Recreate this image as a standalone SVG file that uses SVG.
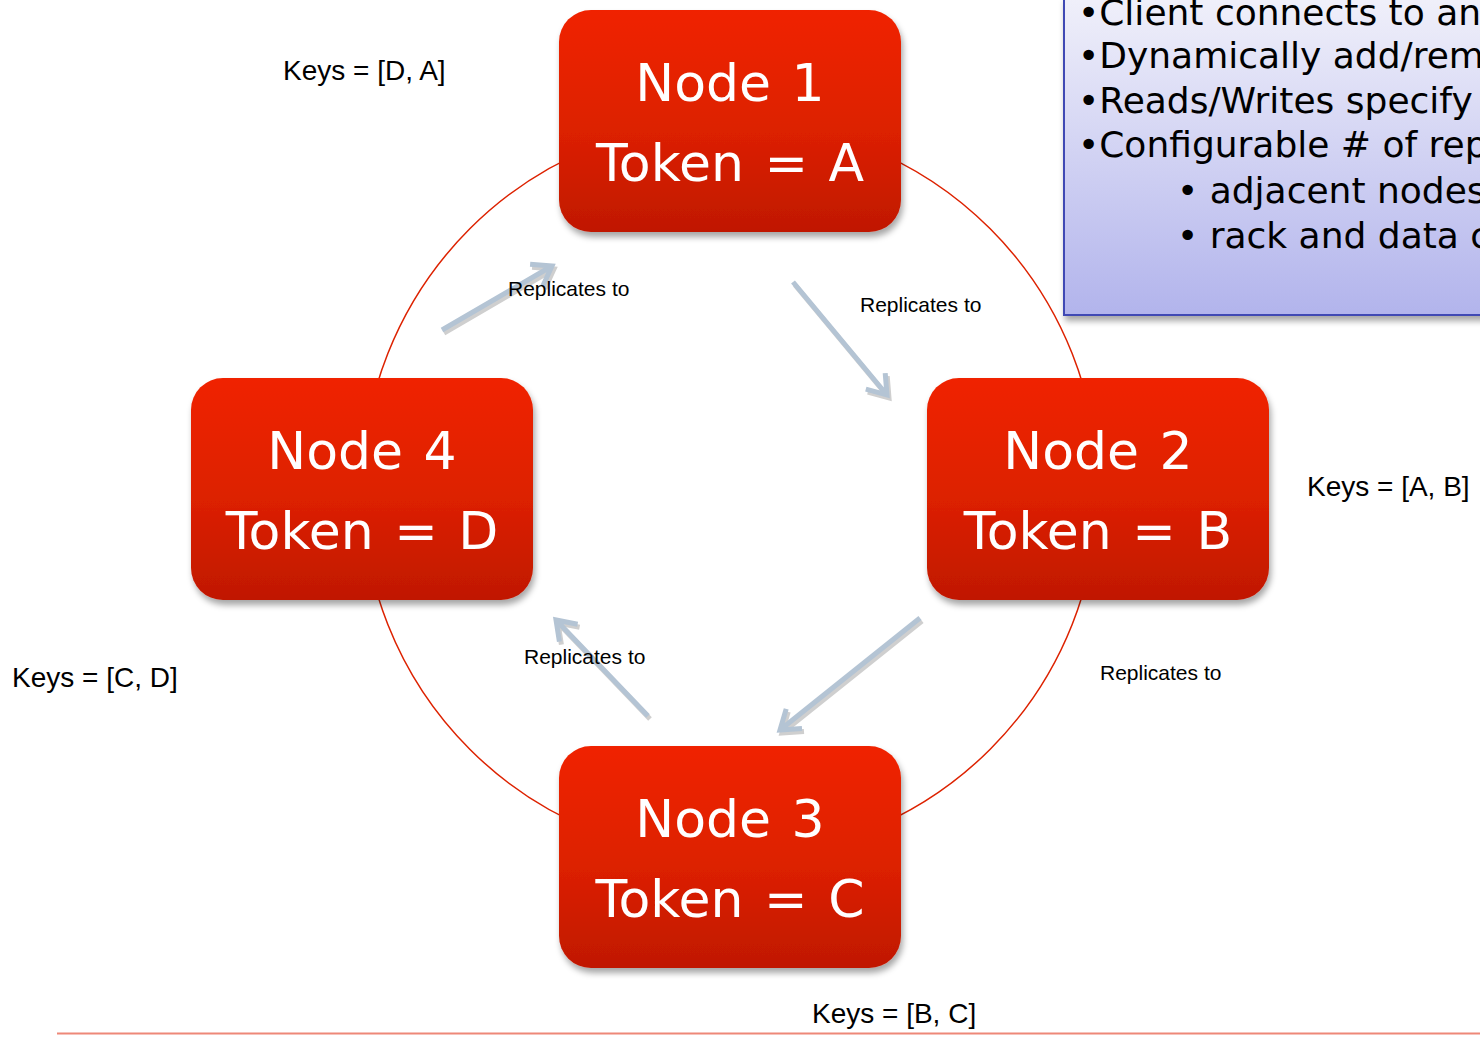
<svg xmlns="http://www.w3.org/2000/svg" width="1480" height="1039" viewBox="0 0 1480 1039">
  <defs>
    <linearGradient id="nodeFill" x1="0" y1="0" x2="0" y2="1">
      <stop offset="0" stop-color="#f02400"/>
      <stop offset="0.55" stop-color="#dc2000"/>
      <stop offset="1" stop-color="#c01800"/>
    </linearGradient>
    <linearGradient id="noteFill" x1="0" y1="0" x2="0" y2="1">
      <stop offset="0" stop-color="#f0f0fa"/>
      <stop offset="1" stop-color="#b2b4ec"/>
    </linearGradient>
    <filter id="shadow" x="-10%" y="-10%" width="125%" height="130%">
      <feDropShadow dx="2" dy="5" stdDeviation="3" flood-color="#000" flood-opacity="0.35"/>
    </filter>
    <clipPath id="noteClip">
      <rect x="1064" y="-2" width="430" height="317"/>
    </clipPath>
    <style>
      .node rect { fill: url(#nodeFill); filter: url(#shadow); }
      .node text { font-family: "DejaVu Sans", Verdana, sans-serif; font-size: 52px; fill: #ffffff; text-anchor: middle; word-spacing: 4px; }
      .keys { font-family: "Liberation Sans", Arial, sans-serif; font-size: 28px; fill: #000; }
      .rep { font-family: "Liberation Sans", Arial, sans-serif; font-size: 21px; fill: #000; }
      .arrow { fill: none; stroke: #b4c4d4; stroke-width: 5; stroke-linejoin: miter; }
      .arrow-shadow { fill: none; stroke: #cfcfcf; stroke-width: 5; stroke-linejoin: miter; }
      .note text { font-family: "DejaVu Sans", Verdana, sans-serif; font-size: 36px; fill: #000; }
    </style>
  </defs>

  <rect width="1480" height="1039" fill="#ffffff"/>

  <!-- token ring -->
  <circle id="ring" cx="730" cy="489" r="368" fill="none" stroke="#dd2200" stroke-width="1.5"/>

  <!-- feature notes -->
  <g id="notes" class="note">
    <rect x="1064" y="-2" width="430" height="317" fill="url(#noteFill)" stroke="#4048b4" stroke-width="2" filter="url(#shadow)"/>
    <g clip-path="url(#noteClip)">
      <text x="1078" y="25">•Client connects to any node</text>
      <text x="1078" y="68">•Dynamically add/remove nodes</text>
      <text x="1078" y="113">•Reads/Writes specify consistency</text>
      <text x="1078" y="157">•Configurable # of replicas</text>
      <text x="1177" y="203">• adjacent nodes</text>
      <text x="1177" y="248">• rack and data center aware</text>
    </g>
  </g>

  <!-- replication connectors -->
  <g id="connectors">
    <g transform="translate(2,3)">
      <path class="arrow-shadow" d="M442,330 L552,266 M530.1,264.2 L552,266 L542.8,286"/>
      <path class="arrow-shadow" d="M793,282 L887,395 M885.2,373.1 L887,395 L865.8,389.2"/>
      <path class="arrow-shadow" d="M920,618 L780,730 M802,728.6 L780,730 L786.2,708.9"/>
      <path class="arrow-shadow" d="M648,716 L556,620 M559.4,641.7 L556,620 L577.6,624.3"/>
    </g>
    <path class="arrow" d="M442,330 L552,266 M530.1,264.2 L552,266 L542.8,286"/>
    <path class="arrow" d="M793,282 L887,395 M885.2,373.1 L887,395 L865.8,389.2"/>
    <path class="arrow" d="M920,618 L780,730 M802,728.6 L780,730 L786.2,708.9"/>
    <path class="arrow" d="M648,716 L556,620 M559.4,641.7 L556,620 L577.6,624.3"/>
    <text class="rep" x="508" y="296">Replicates to</text>
    <text class="rep" x="860" y="312">Replicates to</text>
    <text class="rep" x="524" y="664">Replicates to</text>
    <text class="rep" x="1100" y="680">Replicates to</text>
  </g>

  <!-- ring nodes -->
  <g id="node1" class="node">
    <rect x="559" y="10" width="342" height="222" rx="32"/>
    <text x="730" y="101">Node 1</text>
    <text x="730" y="181">Token = A</text>
  </g>
  <g id="node2" class="node">
    <rect x="927" y="378" width="342" height="222" rx="32"/>
    <text x="1098" y="469">Node 2</text>
    <text x="1098" y="549">Token = B</text>
  </g>
  <g id="node3" class="node">
    <rect x="559" y="746" width="342" height="222" rx="32"/>
    <text x="730" y="837">Node 3</text>
    <text x="730" y="917">Token = C</text>
  </g>
  <g id="node4" class="node">
    <rect x="191" y="378" width="342" height="222" rx="32"/>
    <text x="362" y="469">Node 4</text>
    <text x="362" y="549">Token = D</text>
  </g>

  <!-- key ranges -->
  <g id="keys">
    <text class="keys" x="283" y="80">Keys = [D, A]</text>
    <text class="keys" x="1307" y="496">Keys = [A, B]</text>
    <text class="keys" x="12" y="687">Keys = [C, D]</text>
    <text class="keys" x="812" y="1023">Keys = [B, C]</text>
  </g>

  <!-- footer rule -->
  <line x1="57" y1="1033.5" x2="1480" y2="1033.5" stroke="#ee8878" stroke-width="2"/>
</svg>
